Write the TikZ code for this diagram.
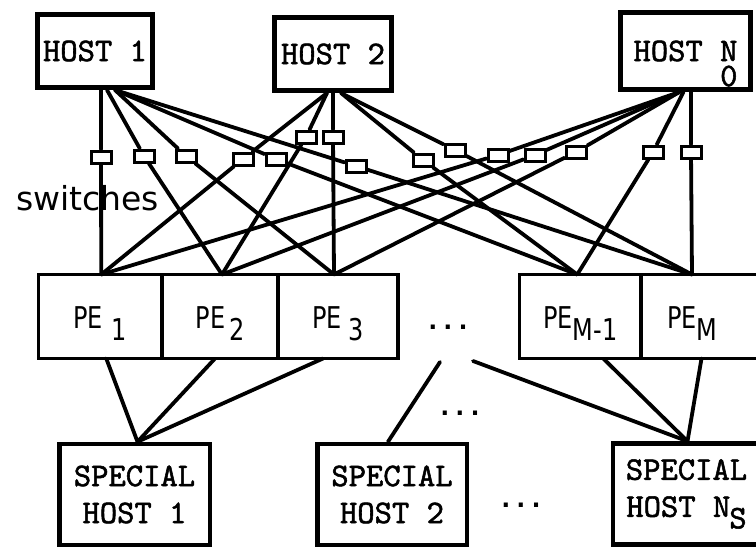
\documentclass[tikz,border=0pt]{standalone}
\usepackage{fontspec}
\setsansfont{DejaVu Sans}
\newfontfamily\hostfont[FakeBold=1.6]{lmmono10-regular.otf}
\newfontfamily\dotfont{DejaVu Sans Mono}
\newfontfamily\pefont[FakeStretch=0.8]{DejaVu Sans}
\usetikzlibrary{positioning, calc}

\newcommand{\hostsize}{\fontsize{33}{37}\selectfont}

\begin{document}
\begin{tikzpicture}[x=1pt,y=-1pt,line cap=round,
	host node/.style={draw,line width=5pt,minimum height=73pt,inner sep=0pt,font=\hostfont\hostsize},
	pe node/.style={draw,line width=3.5pt,outer sep=0pt,minimum height=84pt,text height=24pt,text depth=0pt,font=\pefont\fontsize{30}{36}\selectfont},
	special node/.style={draw,line width=4.5pt,minimum height=101pt,align=center,font=\hostfont\hostsize},
	switch node/.style={draw,fill=white,line width=3pt,minimum width=20pt,minimum height=12pt,inner sep=0pt},
	dots node/.style={inner sep=0pt,font=\dotfont\bfseries\fontsize{25}{30}\selectfont},
	link/.style={line width=3.8pt}]

\clip (0,0) rectangle (756,549);
\fill[white] (0,0) rectangle (756,549);

% hosts
\node[host node,minimum width=115pt] (h1) at (95,51) {HOST 1};
\node[host node,minimum width=117pt] (h2) at (333,54) {HOST 2};
\node[host node,minimum width=130pt,minimum height=77pt] (hn) at (685.5,51) {HOST \rlap{N}\smash{\raisebox{-0.76em}{0}}};

% processing elements
\node[pe node,minimum width=123.5pt] (pe1) at (100.25,316.5) {PE\hspace{9pt}\raisebox{-0.4em}{1}};
\node[pe node,minimum width=116pt] (pe2) [right=0pt of pe1] {PE\hspace{4pt}\raisebox{-0.4em}{2}};
\node[pe node,minimum width=120pt] (pe3) [right=0pt of pe2] {PE\hspace{7pt}\raisebox{-0.4em}{3}};
\node[pe node,minimum width=121.5pt] (pem1) at (580.25,316.5) {PE\raisebox{-0.4em}{M-1}};
\node[pe node,minimum width=129pt] (pem) [right=0pt of pem1] {\hspace*{-26pt}PE\raisebox{-0.4em}{M}};

% special hosts
\node[special node,minimum width=150.5pt] (sh1) at (134.5,494.5) {SPECIAL\\HOST 1};
\node[special node,minimum width=149.5pt] (sh2) at (392,494.5) {SPECIAL\\HOST 2};
\node[special node,minimum width=147pt] (shn) at (686.5,494) {SPECIAL\\HOST N\kern-1pt\raisebox{-0.35em}{S}};

\node[dots node] (dots1) at (448,327) {...};
\node[dots node] (dots2) at (460,413) {...};
\node[dots node] (dots3) at (521,505) {...};

\node[font=\sffamily\fontsize{33}{40}\selectfont,anchor=base west,inner sep=0pt] (swlabel) at (16,210) {switches};

% switches
\node[switch node] (s1) at (101,157) {};
\node[switch node] (s2) at (144,156) {};
\node[switch node] (s3) at (186,156) {};
\node[switch node] (s4) at (243,159) {};
\node[switch node] (s5) at (276,159) {};
\node[switch node] (s6) at (306,137) {};
\node[switch node] (s7) at (333,137) {};
\node[switch node] (s8) at (356,166) {};
\node[switch node] (s9) at (423,160) {};
\node[switch node] (s10) at (455,150) {};
\node[switch node] (s11) at (498,155) {};
\node[switch node] (s12) at (535,155) {};
\node[switch node] (s13) at (576,152) {};
\node[switch node] (s14) at (653,152) {};
\node[switch node] (s15) at (691,152) {};

% end points on the boxes
\coordinate (h1a) at ([xshift=6pt]h1.south);
\coordinate (h1b) at ([xshift=12pt]h1.south);
\coordinate (h1c) at ([xshift=20pt]h1.south);
\coordinate (h2a) at (h2.south);
\coordinate (h2b) at ([xshift=-6pt]h2.south);
\coordinate (h2c) at ([xshift=8pt]h2.south);
\coordinate (hna) at ([xshift=5.5pt]hn.south);
\coordinate (hnb) at ([xshift=-2pt]hn.south);
\coordinate (hnc) at ([xshift=-6pt]hn.south);

\coordinate (pe1t) at ([xshift=1pt]pe1.north);
\coordinate (pe2t) at ([xshift=2pt]pe2.north);
\coordinate (pe3t) at ([xshift=-4pt]pe3.north);
\coordinate (pem1t) at ([xshift=-3pt]pem1.north);
\coordinate (pemt) at ([xshift=-13.5pt]pem.north);

\coordinate (pe1b) at ([xshift=6pt]pe1.south);
\coordinate (pe2b) at ([xshift=-5pt]pe2.south);
\coordinate (pe3b) at ([xshift=-15pt]pe3.south);
\coordinate (pem1b) at ([xshift=23pt]pem1.south);
\coordinate (pemb) at ([xshift=-4pt]pem.south);

\coordinate (sh1t) at ([xshift=3pt]sh1.north);
\coordinate (sh2t) at ([xshift=-4pt]sh2.north);
\coordinate (shnt) at ([xshift=1pt]shn.north);

\coordinate (dl) at (440,362);
\coordinate (dr) at (473,361);

% host to PE links through the switches
\draw[link] (h1a) -- (s1) -- (pe1t);
\draw[link] (h1b) -- (s2) -- (pe2t);
\draw[link] (h1c) -- (s3) -- (pe3t);
\draw[link] (h1c) -- (s5) -- (pem1t);
\draw[link] (h1c) -- (s8) -- (pemt);
\draw[link] (h2b) -- (s4) -- (pe1t);
\draw[link] (h2b) -- (s6) -- (pe2t);
\draw[link] (h2a) -- (s7) -- (pe3t);
\draw[link] (h2c) -- (s9) -- (pem1t);
\draw[link] (h2c) -- (s10) -- (pemt);
\draw[link] (hnc) -- (s11) -- (pe1t);
\draw[link] (hnc) -- (s12) -- (pe2t);
\draw[link] (hnc) -- (s13) -- (pe3t);
\draw[link] (hnb) -- (s14) -- (pem1t);
\draw[link] (hna) -- (s15) -- (pemt);

% PE to special host links
\draw[link] (pe1b) -- (sh1t);
\draw[link] (pe2b) -- (sh1t);
\draw[link] (pe3b) -- (sh1t);
\draw[link] (dl) -- (sh2t);
\draw[link] (dr) -- (shnt);
\draw[link] (pem1b) -- (shnt);
\draw[link] (pemb) -- (shnt);
\end{tikzpicture}
\end{document}
